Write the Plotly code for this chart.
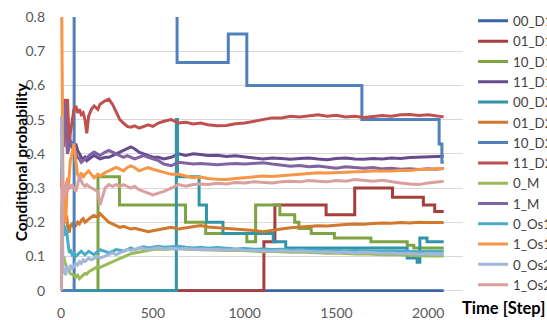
import plotly.graph_objects as go

# ---------------- data ----------------
# shared step grid for the noisy (running-estimate) series
steps = [1, 5, 10, 15, 20, 25, 30, 35, 40, 45,
         50, 60, 70, 80, 90, 100, 110, 120, 130, 140,
         150, 165, 180, 200, 212, 240, 260, 280, 300, 320,
         340, 360, 380, 400, 425, 450, 475, 500, 530, 560,
         600, 640, 680, 720, 760, 800, 850, 900, 950, 1000,
         1050, 1100, 1150, 1200, 1250, 1300, 1350, 1400, 1450, 1500,
         1550, 1600, 1650, 1700, 1750, 1800, 1850, 1900, 1950, 2000,
         2040, 2085]

# step-function series: change points (x) and values (y)
d00_D1_x = [1, 2085]
d00_D1_y = [0, 0]

d01_D1_x = [630, 1105, 1165, 1444, 1600, 1806, 1974, 2036, 2085]
d01_D1_y = [0, 0.143, 0.25, 0.222, 0.3, 0.273, 0.25, 0.231, 0.231]

d10_D1_x = [1, 201, 318, 678, 788, 1012, 1060, 1192, 1273, 1296, 1363, 1489, 1688, 1886, 1922, 2085]
d10_D1_y = [0, 0.333, 0.25, 0.2, 0.167, 0.143, 0.25, 0.222, 0.2, 0.182, 0.167, 0.154, 0.143, 0.133, 0.125, 0.125]

d00_D2_x = [1, 628, 634, 752, 792, 882, 1156, 1224, 1886, 1940, 1955, 1994, 2085]
d00_D2_y = [0, 0.5, 0.333, 0.25, 0.2, 0.167, 0.143, 0.125, 0.0952, 0.0833, 0.154, 0.143, 0.143]

d10_D2_x = [1, 71, 632, 911, 1012, 1639, 2060, 2075, 2085]
d10_D2_y = [0, 1.0, 0.667, 0.75, 0.6, 0.5, 0.4286, 0.375, 0.375]

# noisy series (values at `steps`)
d11_D1 = [0.50, 0.45, 0.55, 0.48, 0.56, 0.50, 0.45, 0.43, 0.42, 0.44,
          0.43, 0.42, 0.41, 0.43, 0.41, 0.40, 0.39, 0.385, 0.39, 0.38,
          0.385, 0.39, 0.395, 0.39, 0.385, 0.39, 0.39, 0.395, 0.40, 0.405,
          0.41, 0.415, 0.42, 0.415, 0.405, 0.40, 0.395, 0.39, 0.39, 0.385,
          0.39, 0.40, 0.395, 0.40, 0.398, 0.395, 0.396, 0.392, 0.394, 0.39,
          0.388, 0.385, 0.388, 0.386, 0.384, 0.386, 0.388, 0.385, 0.383, 0.386,
          0.388, 0.385, 0.384, 0.386, 0.385, 0.388, 0.386, 0.389, 0.39, 0.392,
          0.391, 0.393]

d01_D2 = [0.20, 0.25, 0.17, 0.22, 0.24, 0.20, 0.22, 0.19, 0.18, 0.17,
          0.19, 0.195, 0.185, 0.19, 0.20, 0.195, 0.205, 0.21, 0.20, 0.205,
          0.21, 0.215, 0.22, 0.215, 0.225, 0.21, 0.20, 0.195, 0.19, 0.185,
          0.188, 0.183, 0.18, 0.182, 0.178, 0.175, 0.172, 0.175, 0.178, 0.182,
          0.185, 0.18, 0.183, 0.188, 0.19, 0.186, 0.184, 0.183, 0.18, 0.178,
          0.176, 0.172, 0.175, 0.18, 0.184, 0.186, 0.188, 0.19, 0.189, 0.192,
          0.193, 0.195, 0.194, 0.196, 0.198, 0.197, 0.199, 0.198, 0.20, 0.199,
          0.20, 0.199]

d11_D2 = [0.30, 0.45, 0.50, 0.42, 0.56, 0.55, 0.50, 0.56, 0.45, 0.42,
          0.46, 0.50, 0.53, 0.54, 0.52, 0.53, 0.515, 0.52, 0.50, 0.46,
          0.51, 0.53, 0.54, 0.53, 0.545, 0.555, 0.56, 0.545, 0.52, 0.50,
          0.49, 0.48, 0.478, 0.482, 0.475, 0.48, 0.485, 0.48, 0.49, 0.495,
          0.50, 0.49, 0.492, 0.487, 0.49, 0.485, 0.482, 0.483, 0.488, 0.49,
          0.495, 0.50, 0.505, 0.505, 0.51, 0.508, 0.512, 0.514, 0.51, 0.513,
          0.508, 0.51, 0.506, 0.51, 0.512, 0.51, 0.514, 0.515, 0.512, 0.514,
          0.511, 0.508]

d0_M = [0.10, 0.12, 0.09, 0.10, 0.085, 0.075, 0.07, 0.06, 0.065, 0.055,
        0.05, 0.048, 0.045, 0.04, 0.045, 0.035, 0.04, 0.045, 0.05, 0.048,
        0.055, 0.06, 0.065, 0.07, 0.068, 0.075, 0.08, 0.085, 0.09, 0.095,
        0.10, 0.105, 0.108, 0.11, 0.113, 0.115, 0.118, 0.12, 0.122, 0.12,
        0.122, 0.123, 0.121, 0.12, 0.121, 0.119, 0.118, 0.117, 0.118, 0.116,
        0.115, 0.114, 0.115, 0.113, 0.112, 0.113, 0.111, 0.11, 0.109, 0.11,
        0.108, 0.107, 0.108, 0.106, 0.105, 0.106, 0.104, 0.103, 0.102, 0.101,
        0.10, 0.101]

d1_M = [0.45, 0.50, 0.45, 0.52, 0.55, 0.47, 0.42, 0.40, 0.41, 0.43,
        0.44, 0.43, 0.42, 0.40, 0.39, 0.385, 0.375, 0.38, 0.385, 0.39,
        0.395, 0.40, 0.405, 0.40, 0.395, 0.405, 0.41, 0.405, 0.40, 0.395,
        0.39, 0.395, 0.39, 0.385, 0.39, 0.395, 0.39, 0.385, 0.38, 0.37,
        0.365, 0.375, 0.372, 0.37, 0.372, 0.37, 0.368, 0.37, 0.372, 0.37,
        0.372, 0.374, 0.37, 0.366, 0.364, 0.366, 0.362, 0.364, 0.36, 0.358,
        0.362, 0.36, 0.358, 0.36, 0.356, 0.358, 0.355, 0.356, 0.354, 0.356,
        0.355, 0.357]

d0_Os1 = [0.0, 0.15, 0.20, 0.17, 0.19, 0.16, 0.18, 0.15, 0.12, 0.11,
          0.12, 0.105, 0.11, 0.10, 0.105, 0.11, 0.115, 0.11, 0.105, 0.11,
          0.115, 0.11, 0.105, 0.115, 0.12, 0.115, 0.11, 0.115, 0.12, 0.118,
          0.115, 0.12, 0.125, 0.12, 0.125, 0.128, 0.125, 0.127, 0.13, 0.127,
          0.128, 0.13, 0.127, 0.125, 0.127, 0.124, 0.126, 0.124, 0.122, 0.123,
          0.121, 0.122, 0.12, 0.121, 0.119, 0.12, 0.118, 0.119, 0.117, 0.118,
          0.116, 0.117, 0.116, 0.117, 0.115, 0.116, 0.115, 0.116, 0.114, 0.115,
          0.114, 0.115]

d1_Os1 = [1.0, 0.50, 0.33, 0.25, 0.30, 0.20, 0.28, 0.33, 0.30, 0.36,
          0.38, 0.40, 0.43, 0.38, 0.34, 0.33, 0.345, 0.33, 0.34, 0.345,
          0.35, 0.34, 0.33, 0.34, 0.335, 0.345, 0.35, 0.355, 0.36, 0.355,
          0.35, 0.36, 0.365, 0.36, 0.35, 0.355, 0.36, 0.355, 0.35, 0.345,
          0.34, 0.34, 0.335, 0.33, 0.332, 0.328, 0.326, 0.325, 0.328, 0.33,
          0.333, 0.335, 0.334, 0.336, 0.338, 0.34, 0.342, 0.345, 0.344, 0.345,
          0.346, 0.345, 0.348, 0.35, 0.349, 0.35, 0.352, 0.351, 0.354, 0.355,
          0.356, 0.357]

d0_Os2 = [0.51, 0.20, 0.07, 0.05, 0.06, 0.045, 0.07, 0.055, 0.065, 0.06,
          0.075, 0.065, 0.07, 0.08, 0.075, 0.085, 0.08, 0.09, 0.085, 0.09,
          0.095, 0.09, 0.095, 0.10, 0.095, 0.10, 0.105, 0.11, 0.105, 0.11,
          0.115, 0.12, 0.118, 0.12, 0.125, 0.122, 0.12, 0.123, 0.125, 0.122,
          0.124, 0.122, 0.123, 0.121, 0.122, 0.12, 0.121, 0.119, 0.12, 0.118,
          0.117, 0.118, 0.116, 0.117, 0.115, 0.116, 0.114, 0.113, 0.114, 0.112,
          0.113, 0.111, 0.112, 0.11, 0.109, 0.11, 0.108, 0.109, 0.107, 0.108,
          0.106, 0.107]

d1_Os2 = [0.0, 0.33, 0.28, 0.31, 0.27, 0.30, 0.32, 0.29, 0.31, 0.30,
          0.30, 0.31, 0.30, 0.29, 0.31, 0.335, 0.32, 0.31, 0.305, 0.31,
          0.305, 0.30, 0.295, 0.29, 0.25, 0.30, 0.31, 0.305, 0.31, 0.305,
          0.31, 0.305, 0.30, 0.305, 0.295, 0.29, 0.285, 0.28, 0.285, 0.29,
          0.30, 0.31, 0.305, 0.31, 0.312, 0.31, 0.314, 0.312, 0.316, 0.315,
          0.318, 0.316, 0.315, 0.318, 0.32, 0.318, 0.322, 0.32, 0.318, 0.322,
          0.32, 0.325, 0.322, 0.32, 0.323, 0.318, 0.315, 0.312, 0.31, 0.315,
          0.318, 0.32]

x_ticks = [0, 500, 1000, 1500, 2000]
y_ticks = [0, 0.1, 0.2, 0.3, 0.4, 0.5, 0.6, 0.7, 0.8]
y_tick_labels = ["0", "0.1", "0.2", "0.3", "0.4", "0.5", "0.6", "0.7", "0.8"]

# ---------------- figure ----------------
series = [
    ("00_D1", d00_D1_x, d00_D1_y, "#3A64A4", "hv"),
    ("01_D1", d01_D1_x, d01_D1_y, "#A63F3C", "hv"),
    ("10_D1", d10_D1_x, d10_D1_y, "#7EA343", "hv"),
    ("11_D1", steps, d11_D1, "#664C8F", "linear"),
    ("00_D2", d00_D2_x, d00_D2_y, "#3294A8", "hv"),
    ("01_D2", steps, d01_D2, "#D0792E", "linear"),
    ("10_D2", d10_D2_x, d10_D2_y, "#4F81BD", "hv"),
    ("11_D2", steps, d11_D2, "#C0504D", "linear"),
    ("0_M", steps, d0_M, "#9BBB59", "linear"),
    ("1_M", steps, d1_M, "#8064A2", "linear"),
    ("0_Os1", steps, d0_Os1, "#4BACC6", "linear"),
    ("1_Os1", steps, d1_Os1, "#F79646", "linear"),
    ("0_Os2", steps, d0_Os2, "#A2B7D9", "linear"),
    ("1_Os2", steps, d1_Os2, "#D9A09E", "linear"),
]

fig = go.Figure()
for name, xs, ys, col, shape in series:
    fig.add_trace(go.Scatter(x=xs, y=ys, name=name, mode="lines",
                             line=dict(color=col, width=3, shape=shape)))

FONT = "Lato, 'Open Sans', sans-serif"

fig.update_layout(
    width=547, height=320,
    margin=dict(l=60, r=84, t=17, b=28, autoexpand=False),
    paper_bgcolor="white", plot_bgcolor="white",
    font=dict(family=FONT, size=14, color="#595959"),
    showlegend=True,
    legend=dict(x=1.025, xanchor="left", y=1.041, yanchor="top",
                font=dict(family=FONT, size=13.3, color="#404040"),
                tracegroupgap=0, bgcolor="rgba(0,0,0,0)",
                itemwidth=30, maxheight=320),
    xaxis=dict(range=[-6, 2190], tickvals=x_ticks, showgrid=False,
               zeroline=False, showline=False, ticks="", automargin=False,
               ticklabelstandoff=11,
               tickfont=dict(family=FONT, size=14, color="#595959")),
    yaxis=dict(range=[-0.004, 0.8], tickvals=y_ticks, ticktext=y_tick_labels,
               showgrid=True, gridcolor="#D9D9D9", gridwidth=1,
               zeroline=False, showline=False, ticks="", automargin=False,
               ticklabelstandoff=14,
               tickfont=dict(family=FONT, size=14, color="#595959")),
    annotations=[
        dict(text="<b>Conditional probability</b>", xref="paper", yref="paper",
             x=-0.097, y=0.475, xanchor="center", yanchor="middle",
             textangle=-90, showarrow=False,
             font=dict(family=FONT, size=15.5, color="#000000")),
        dict(text="<b>Time [Step]</b>", xref="paper", yref="paper",
             x=0.993, y=-0.058, xanchor="left", yanchor="middle",
             showarrow=False,
             font=dict(family=FONT, size=16.5, color="#000000"))],
)

fig.write_html("out.html",
               config={"displayModeBar": False},
               post_script="document.body.style.margin='0';"
                           "document.body.style.padding='0';"
                           "document.body.style.overflow='hidden';")
